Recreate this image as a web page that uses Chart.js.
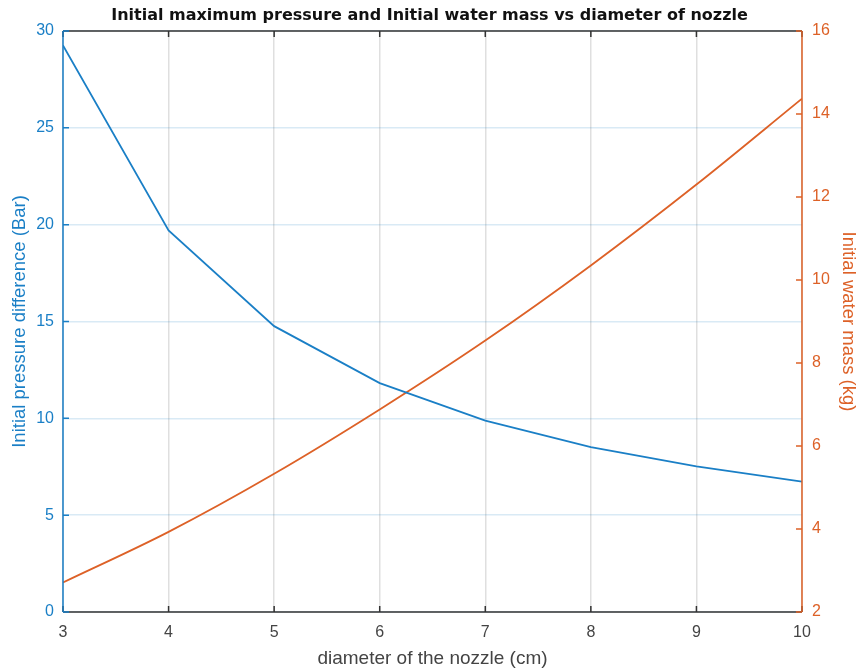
<!DOCTYPE html>
<html>
<head>
<meta charset="utf-8">
<script src="https://cdn.jsdelivr.net/npm/chart.js@4"></script>
<style>
  html, body { margin: 0; padding: 0; background: #fff; }
  #wrap { width: 859px; height: 670px; }
</style>
</head>
<body>
<div id="wrap"><canvas id="myChart" width="859" height="670"></canvas></div>
<script>
// nozzle diameter (cm)
const diameters = [3, 4, 5, 6, 7, 8, 9, 10]
// initial pressure difference (Bar)
const pressure = [29.26, 19.70, 14.76, 11.82, 9.88, 8.51, 7.52, 6.73]
// initial water mass (kg)
const waterMass = [2.71, 3.93, 5.33, 6.88, 8.54, 10.35, 12.30, 14.37]

const BLUE = '#1a7fc6'
const ORANGE = '#dd6127'
const DARK = '#333333'
const FONT = '"Liberation Sans", Arial, sans-serif'

// MATLAB-style box with inward tick marks
const boxTicks = {
  id: 'boxTicks',
  afterDraw (chart) {
    const { ctx, chartArea: a, scales } = chart
    const len = 6
    ctx.save()
    ctx.lineWidth = 1.5
    ctx.strokeStyle = DARK
    ctx.beginPath()
    ctx.moveTo(a.left, a.top); ctx.lineTo(a.right, a.top)
    ctx.moveTo(a.left, a.bottom); ctx.lineTo(a.right, a.bottom)
    scales.x.ticks.forEach(t => {
      const px = scales.x.getPixelForValue(t.value)
      ctx.moveTo(px, a.bottom); ctx.lineTo(px, a.bottom - len)
      ctx.moveTo(px, a.top); ctx.lineTo(px, a.top + len)
    })
    ctx.stroke()

    ctx.strokeStyle = BLUE
    ctx.beginPath()
    ctx.moveTo(a.left, a.top); ctx.lineTo(a.left, a.bottom)
    scales.y.ticks.forEach(t => {
      const py = scales.y.getPixelForValue(t.value)
      ctx.moveTo(a.left, py); ctx.lineTo(a.left + len, py)
    })
    ctx.stroke()

    ctx.strokeStyle = ORANGE
    ctx.beginPath()
    ctx.moveTo(a.right, a.top); ctx.lineTo(a.right, a.bottom)
    scales.y1.ticks.forEach(t => {
      const py = scales.y1.getPixelForValue(t.value)
      ctx.moveTo(a.right, py); ctx.lineTo(a.right - len, py)
    })
    ctx.stroke()
    ctx.restore()
  }
}

const ctx = document.getElementById('myChart')
new Chart(ctx, {
  type: 'line',
  data: {
    labels: diameters,
    datasets: [{
      label: 'Initial pressure difference (Bar)',
      data: diameters.map((d, i) => ({ x: d, y: pressure[i] })),
      borderColor: BLUE,
      borderWidth: 1.8,
      pointRadius: 0,
      tension: 0,
      yAxisID: 'y'
    }, {
      label: 'Initial water mass (kg)',
      data: diameters.map((d, i) => ({ x: d, y: waterMass[i] })),
      borderColor: ORANGE,
      borderWidth: 1.8,
      pointRadius: 0,
      cubicInterpolationMode: 'monotone',
      yAxisID: 'y1'
    }]
  },
  options: {
    responsive: false,
    animation: false,
    layout: { padding: 0 },
    plugins: {
      legend: { display: false },
      tooltip: { enabled: false },
      title: {
        display: true,
        text: 'Initial maximum pressure and Initial water mass vs diameter of nozzle',
        color: '#111',
        font: { family: '"DejaVu Sans", sans-serif', size: 16, weight: 'bold' },
        padding: { top: 6.5, bottom: 5.3 }
      }
    },
    scales: {
      x: {
        type: 'linear',
        min: 3,
        max: 10,
        ticks: { stepSize: 1, color: '#444', font: { family: FONT, size: 16 }, padding: 11 },
        grid: { color: 'rgba(38,38,38,0.15)', lineWidth: 1.5, drawTicks: false },
        border: { display: false },
        title: {
          display: true,
          text: 'diameter of the nozzle (cm)',
          color: '#444',
          font: { family: FONT, size: 19 },
          padding: { top: 0, bottom: 0 }
        },
        afterFit (s) { s.height = 58 }
      },
      y: {
        position: 'left',
        min: 0,
        max: 30,
        ticks: { stepSize: 5, color: BLUE, font: { family: FONT, size: 16 }, padding: 9 },
        grid: { color: 'rgba(0,114,189,0.15)', lineWidth: 1.5, drawTicks: false },
        border: { display: false },
        title: {
          display: true,
          text: 'Initial pressure difference (Bar)',
          color: BLUE,
          font: { family: FONT, size: 18.5 },
          padding: { top: 9, bottom: 0 }
        },
        afterFit (s) { s.width = 63 }
      },
      y1: {
        position: 'right',
        min: 2,
        max: 16,
        ticks: { stepSize: 2, color: ORANGE, font: { family: FONT, size: 16 }, padding: 10 },
        grid: { drawOnChartArea: false, drawTicks: false },
        border: { display: false },
        title: {
          display: true,
          text: 'Initial water mass (kg)',
          color: ORANGE,
          font: { family: FONT, size: 18.5 },
          padding: { top: 0, bottom: 0 }
        },
        afterFit (s) { s.width = 57 }
      }
    }
  },
  plugins: [boxTicks]
})
</script>
</body>
</html>
